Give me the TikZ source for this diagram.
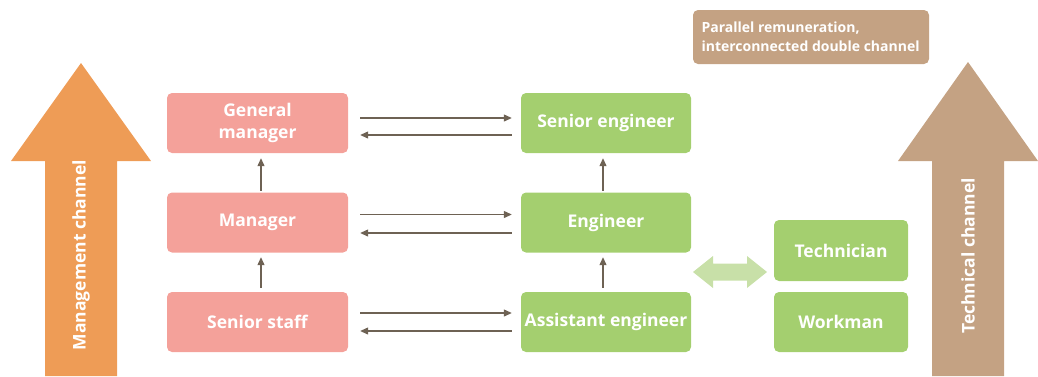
\documentclass[tikz,border=0pt]{standalone}
\usepackage{fontspec}
\setmainfont{Open Sans}
\usetikzlibrary{arrows.meta}
\definecolor{pinkbox}{HTML}{F4A19A}
\definecolor{greenbox}{HTML}{A4CF6F}
\definecolor{orangearr}{HTML}{EE9C56}
\definecolor{tanarr}{HTML}{C4A283}
\definecolor{linkcol}{HTML}{6E6254}
\definecolor{lightgreen}{HTML}{C8E0A8}
\tikzset{
  box/.style={rounded corners=5pt, text=white, font=\bfseries\fontsize{17.5}{22}\selectfont, align=center, inner sep=0pt},
  pinkstyle/.style={box, fill=pinkbox},
  greenstyle/.style={box, fill=greenbox},
  link/.style={draw=linkcol, line width=1.2pt, -{Triangle[length=8pt,width=7pt]}},
  chan/.style={rotate=90, text=white, font=\bfseries\fontsize{17.5}{20}\selectfont},
}
\begin{document}
\begin{tikzpicture}[x=1pt,y=-1pt]
\useasboundingbox (0,0) rectangle (1038,376);
% big channel arrows
\fill[orangearr] (45,376) -- (45,161) -- (11,161) -- (81,63) -- (151,161) -- (117,161) -- (117,376) -- cycle;
\node[chan] (mc) at (81,255) {Management channel};
\fill[tanarr] (932,376) -- (932,161) -- (898,161) -- (968,62) -- (1038,161) -- (1004,161) -- (1004,376) -- cycle;
\node[chan] (tc) at (968,256) {Technical channel};
% label
\node[fill=tanarr, rounded corners=5pt, minimum width=236pt, minimum height=54pt, inner sep=0pt] (lbl) at (811,37) {};
\node[anchor=west, text=white, align=left, font=\bfseries\fontsize{14}{19}\selectfont] (lbltxt) at (698,37) {Parallel remuneration,\\interconnected double channel};
% pink boxes
\node[pinkstyle, minimum width=181pt, minimum height=60pt] (gm) at (257.5,123) {General\\manager};
\node[pinkstyle, minimum width=181pt, minimum height=60pt] (mg) at (257.5,222.5) {Manager};
\node[pinkstyle, minimum width=181pt, minimum height=60pt] (ss) at (257.5,322) {Senior staff};
% green boxes
\node[greenstyle, minimum width=170pt, minimum height=60pt] (se) at (606,123) {Senior engineer};
\node[greenstyle, minimum width=170pt, minimum height=60pt] (en) at (606,222.5) {Engineer};
\node[greenstyle, minimum width=170pt, minimum height=60pt] (ae) at (606,322) {Assistant engineer};
\node[greenstyle, minimum width=134pt, minimum height=61pt] (te) at (841,250.5) {Technician};
\node[greenstyle, minimum width=134pt, minimum height=60pt] (wm) at (841,322) {Workman};
% horizontal links
\draw[link] ([xshift=12pt,yshift=5pt]gm.east) -- ([xshift=-9pt,yshift=5pt]se.west);
\draw[link] ([xshift=-9pt,yshift=-12pt]se.west) -- ([xshift=12pt,yshift=-12pt]gm.east);
\draw[link] ([xshift=12pt,yshift=8pt]mg.east) -- ([xshift=-9pt,yshift=8pt]en.west);
\draw[link] ([xshift=-9pt,yshift=-10.5pt]en.west) -- ([xshift=12pt,yshift=-10.5pt]mg.east);
\draw[link] ([xshift=12pt,yshift=9pt]ss.east) -- ([xshift=-9pt,yshift=9pt]ae.west);
\draw[link] ([xshift=-9pt,yshift=-9pt]ae.west) -- ([xshift=12pt,yshift=-9pt]ss.east);
% vertical links
\draw[link] ([xshift=3.5pt,yshift=1.5pt]mg.north) -- ([xshift=3.5pt,yshift=-5pt]gm.south);
\draw[link] ([xshift=3.5pt,yshift=4pt]ss.north) -- ([xshift=3.5pt,yshift=-4.5pt]mg.south);
\draw[link] ([xshift=-3pt,yshift=1.5pt]en.north) -- ([xshift=-3pt,yshift=-5pt]se.south);
\draw[link] ([xshift=-3pt,yshift=4pt]ae.north) -- ([xshift=-3pt,yshift=-4.5pt]en.south);
% double arrow
\coordinate (dl) at (693,272);
\coordinate (dr) at (767,272);
\fill[lightgreen] (dl) -- (713,256) -- (713,263.5) -- (747,263.5) -- (747,256) -- (dr) -- (747,288) -- (747,280.5) -- (713,280.5) -- (713,288) -- cycle;
\end{tikzpicture}
\end{document}
